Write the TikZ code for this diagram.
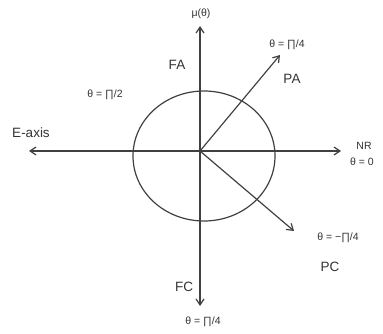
\documentclass[tikz,border=0pt]{standalone}
\usepackage{fontspec}
\setmainfont{Liberation Sans}
\usetikzlibrary{arrows.meta}
\begin{document}
\begin{tikzpicture}[x=1pt,y=-1pt,
  ln/.style={draw=black!75, line width=1.2pt},
  arr/.style={ln, -{Straight Barb[length=6pt,width=8pt]}},
  big/.style={font=\fontsize{13.5}{14}\selectfont, text=black!80, inner sep=1pt},
  sml/.style={font=\fontsize{10.5}{11}\selectfont, text=black!80, inner sep=1pt}]
\useasboundingbox (0,0) rectangle (383,334);
\coordinate (o) at (200,151);
\draw[ln] (204,156) ellipse [x radius=71, y radius=65];
\coordinate (top) at (200,26);
\coordinate (bot) at (200,306);
\coordinate (lft) at (29,151);
\coordinate (rgt) at (341,151);
\coordinate (pa) at (280,55);
\coordinate (pc) at (294,231);
\draw[arr] (o) -- (top);
\draw[arr] (o) -- (bot);
\draw[arr] (o) -- (lft);
\draw[arr] (o) -- (rgt);
\draw[arr] (o) -- (pa);
\draw[arr] (o) -- (pc);
\node[sml] (mu) at (201,14) {μ(θ)};
\node[sml] (t1) at (287,45) {θ = ∏/4};
\node[big] (PA) at (292,79) {PA};
\node[big] (FA) at (177,65) {FA};
\node[sml] (t2) at (105,95) {θ = ∏/2};
\node[big] (E) at (31,133) {E-axis};
\node[sml] (NR) at (364,146) {NR};
\node[sml] (t0) at (362,162) {θ = 0};
\node[sml] (t3) at (338,238) {θ = −∏/4};
\node[big] (PC) at (330,267) {PC};
\node[big] (FC) at (184,287) {FC};
\node[sml] (t4) at (203,322) {θ = ∏/4};
\end{tikzpicture}
\end{document}
